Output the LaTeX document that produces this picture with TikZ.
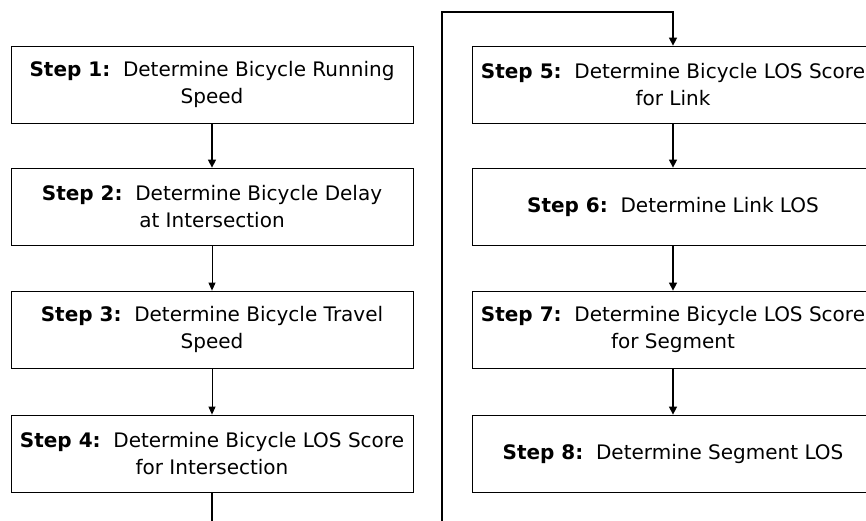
\documentclass[tikz,border=0pt]{standalone}
\usepackage{fontspec}
\setmainfont{DejaVu Sans}
\usetikzlibrary{arrows.meta}
\begin{document}
\begin{tikzpicture}[x=1pt,y=-1pt,
  stepbox/.style={draw, line width=0.8pt, minimum width=402pt, minimum height=77pt, align=center, inner sep=0pt,
    font={\fontsize{20}{27}\selectfont}},
  flow/.style={line width=1.4pt, -{Triangle[length=8pt,width=8pt]}},
  thin flow/.style={line width=0.9pt, -{Triangle[length=8pt,width=7pt]}}]
\useasboundingbox (0,0) rectangle (866,520);
\clip (0,0) rectangle (866,520);
\fill[white] (0,0) rectangle (866,520);
\node[stepbox] (s1) at (212,84.5) {\textbf{Step 1:}~~Determine Bicycle Running\\Speed};
\node[stepbox] (s2) at (212,206.5) {\textbf{Step 2:}~~Determine Bicycle Delay\\at Intersection};
\node[stepbox] (s3) at (212,329.5) {\textbf{Step 3:}~~Determine Bicycle Travel\\Speed};
\node[stepbox] (s4) at (212,453.5) {\textbf{Step 4:}~~Determine Bicycle LOS Score\\for Intersection};
\node[stepbox] (s5) at (673,84.5) {\textbf{Step 5:}~~Determine Bicycle LOS Score\\for Link};
\node[stepbox] (s6) at (673,206.5) {\textbf{Step 6:}~~Determine Link LOS};
\node[stepbox] (s7) at (673,329.5) {\textbf{Step 7:}~~Determine Bicycle LOS Score\\for Segment};
\node[stepbox] (s8) at (673,453.5) {\textbf{Step 8:}~~Determine Segment LOS};
\coordinate (b1) at (212,530);
\coordinate (b2) at (442,530);
\coordinate (t1) at (442,12);
\coordinate (t2) at (673,12);
\draw[flow] (s1) -- (s2);
\draw[thin flow] (s2) -- (s3);
\draw[thin flow] (s3) -- (s4);
\draw[line width=1.4pt] (s4.south) -- (b1);
\draw[flow] (b2) -- (t1) -- (t2) -- (s5.north);
\draw[flow] (s5) -- (s6);
\draw[flow] (s6) -- (s7);
\draw[flow] (s7) -- (s8);
\end{tikzpicture}
\end{document}
